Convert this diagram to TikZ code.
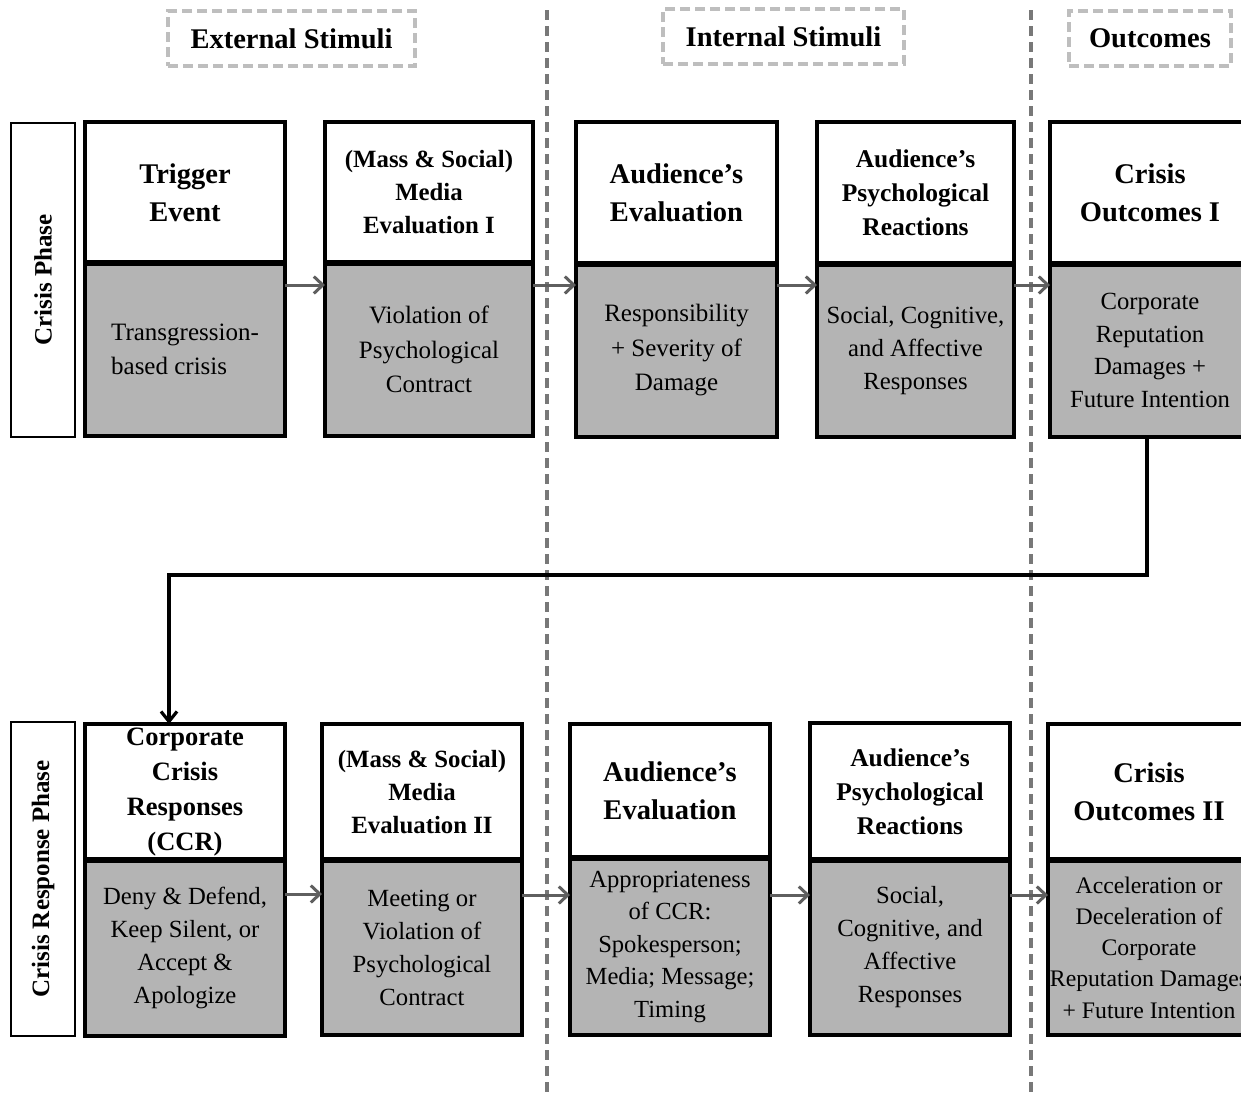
\documentclass[tikz,border=0pt]{standalone}
\usepackage{fontspec}
\setmainfont{Liberation Serif}
\usetikzlibrary{arrows.meta}
\definecolor{boxgray}{RGB}{180,180,180}
\definecolor{arrgray}{RGB}{95,95,95}
\definecolor{sepgray}{RGB}{120,120,120}
\definecolor{hdrgray}{RGB}{190,190,190}
\tikzset{
  frame/.style={draw=black, line width=4pt, rectangle, inner sep=1pt, outer sep=0pt, align=center, anchor=north west},
  ttl/.style={frame, fill=white, font=\bfseries\fontsize{28.5}{38}\selectfont},
  ttlsmall/.style={font=\bfseries\fontsize{24.8}{33}\selectfont},
  ttlmid/.style={font=\bfseries\fontsize{25.5}{34}\selectfont},
  bdy/.style={frame, fill=boxgray, font=\fontsize{25}{34.5}\selectfont},
  bdysmall/.style={font=\fontsize{24.7}{33}\selectfont},
  divider/.style={line width=6pt, black},
  flow/.style={draw=arrgray, line width=3pt, -{Straight Barb[length=9pt,width=17pt,line width=3pt]}},
  conn/.style={draw=black, line width=3.2pt, -{Straight Barb[length=10pt,width=16pt,line width=3.2pt]}},
  sep/.style={draw=sepgray, line width=3.2pt, dash pattern=on 10pt off 6pt},
  hdr/.style={draw=hdrgray, line width=3.2pt, dash pattern=on 10pt off 5pt, rectangle, font=\bfseries\fontsize{28.5}{34}\selectfont, inner sep=0pt},
  phase/.style={draw=black, line width=1.4pt, rectangle, minimum width=64pt, font=\bfseries\fontsize{25}{30}\selectfont, inner sep=0pt}
}
\begin{document}
\begin{tikzpicture}[x=1pt,y=-1pt]
\useasboundingbox (0,0) rectangle (1241,1095);
\fill[white] (0,0) rectangle (1241,1095);

% separators
\draw[sep] (547,10) -- (547,1095);
\draw[sep] (1031,10) -- (1031,1095);

% headers
\node[hdr, minimum width=247pt, minimum height=55pt] (h1) at (291.5,38.5) {External Stimuli};
\node[hdr, minimum width=241pt, minimum height=55pt] (h2) at (783.5,36.5) {Internal Stimuli};
\node[hdr, minimum width=162pt, minimum height=55pt] (h3) at (1150,38.5) {Outcomes};

% phase labels
\node[phase, minimum height=314pt] (s1) at (43,280) {\rotatebox{90}{Crisis Phase}};
\node[phase, minimum height=314pt] (s2) at (43,879) {\rotatebox{90}{Crisis Response Phase}};

% ---------- top row ----------
\node[ttl, minimum width=200pt, minimum height=141pt] (t1) at (85,122) {Trigger\\Event};
\node[bdy, minimum width=200pt, minimum height=173pt, align=left] (b1) at (85,263) {Transgression-\\based crisis};

\node[ttl, ttlsmall, minimum width=208pt, minimum height=141pt] (t2) at (325,122) {(Mass \& Social)\\Media\\Evaluation I};
\node[bdy, minimum width=208pt, minimum height=173pt] (b2) at (325,263) {Violation of\\Psychological\\Contract};

\node[ttl, minimum width=201pt, minimum height=142pt] (t3) at (576,122) {Audience’s\\Evaluation};
\node[bdy, minimum width=201pt, minimum height=173pt] (b3) at (576,264) {Responsibility\\+ Severity of\\Damage};

\node[ttl, ttlmid, minimum width=197pt, minimum height=142pt] (t4) at (817,122) {Audience’s\\Psychological\\Reactions};
\node[bdy, bdysmall, minimum width=197pt, minimum height=173pt] (b4) at (817,264) {Social, Cognitive,\\and Affective\\Responses};

\node[ttl, minimum width=200pt, minimum height=142pt] (t5) at (1050,122) {Crisis\\Outcomes I};
\node[bdy, minimum width=200pt, minimum height=173pt, font=\fontsize{24.7}{32.7}\selectfont] (b5) at (1050,264) {Corporate\\Reputation\\Damages +\\Future Intention};

% ---------- bottom row ----------
\node[ttl, minimum width=200pt, minimum height=136pt, font=\bfseries\fontsize{26.5}{35.3}\selectfont] (t6) at (85,724) {Corporate\\Crisis\\Responses\\(CCR)};
\node[bdy, bdysmall, minimum width=200pt, minimum height=176pt] (b6) at (85,860) {Deny \& Defend,\\Keep Silent, or\\Accept \&\\Apologize};

\node[ttl, ttlsmall, minimum width=200pt, minimum height=136pt] (t7) at (322,724) {(Mass \& Social)\\Media\\Evaluation II};
\node[bdy, bdysmall, minimum width=200pt, minimum height=175pt] (b7) at (322,860) {Meeting or\\Violation of\\Psychological\\Contract};

\node[ttl, minimum width=200pt, minimum height=134pt] (t8) at (570,724) {Audience’s\\Evaluation};
\node[bdy, minimum width=200pt, minimum height=177pt, font=\fontsize{24.6}{32.5}\selectfont] (b8) at (570,858) {Appropriateness\\of CCR:\\Spokesperson;\\Media; Message;\\Timing};

\node[ttl, ttlmid, minimum width=200pt, minimum height=137pt] (t9) at (810,723) {Audience’s\\Psychological\\Reactions};
\node[bdy, bdysmall, minimum width=200pt, minimum height=175pt] (b9) at (810,860) {Social,\\Cognitive, and\\Affective\\Responses};

\node[ttl, minimum width=202pt, minimum height=136pt] (t10) at (1048,724) {Crisis\\Outcomes II};
\node[bdy, minimum width=202pt, minimum height=175pt, font=\fontsize{23.7}{31.3}\selectfont] (b10) at (1048,860) {Acceleration or\\Deceleration of\\Corporate\\Reputation Damages\\+ Future Intention};

% dividers
\foreach \n in {1,...,10} {
  \draw[divider] (t\n.south west) -- (t\n.south east);
}

% flow arrows top
\draw[flow] ([yshift=-22pt]b1.north east) -- ([yshift=-22pt]b2.north west);
\draw[flow] ([yshift=-22pt]b2.north east) -- ([yshift=-21pt]b3.north west);
\draw[flow] ([yshift=-21pt]b3.north east) -- ([yshift=-21pt]b4.north west);
\draw[flow] ([yshift=-21pt]b4.north east) -- ([yshift=-21pt]b5.north west);
% flow arrows bottom
\draw[flow] ([yshift=-34pt]b6.north east) -- ([yshift=-34pt]b7.north west);
\draw[flow] ([yshift=-35pt]b7.north east) -- ([yshift=-37pt]b8.north west);
\draw[flow] ([yshift=-37pt]b8.north east) -- ([yshift=-35pt]b9.north west);
\draw[flow] ([yshift=-35pt]b9.north east) -- ([yshift=-35pt]b10.north west);

% connector from crisis outcomes I to corporate crisis responses
\draw[conn] ([xshift=-3pt]b5.south) -- ++(0,138) -| ([xshift=-16pt]t6.north);
\end{tikzpicture}
\end{document}
